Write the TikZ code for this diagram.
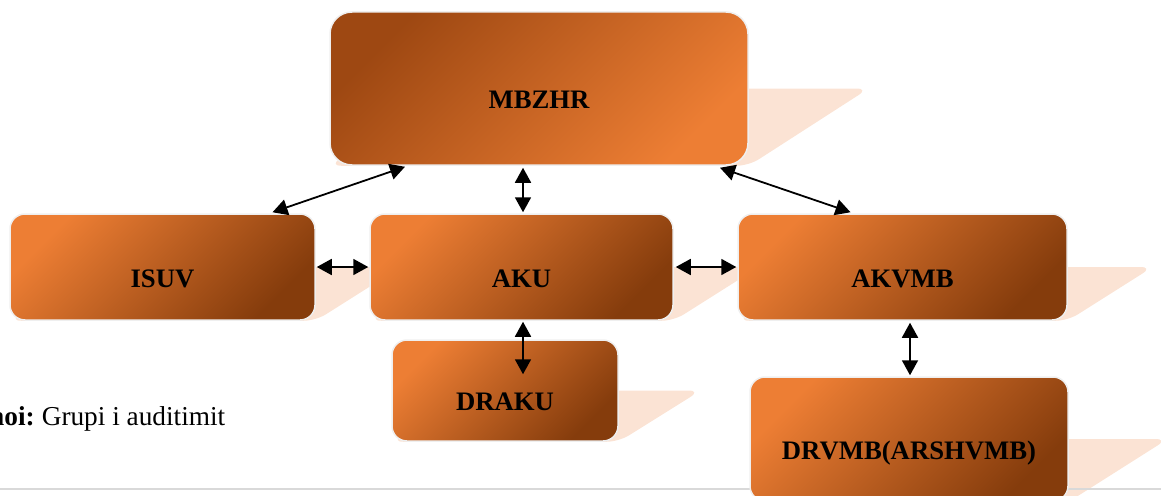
\documentclass[tikz,border=0pt]{standalone}
\usepackage{fontspec}
\setmainfont{Liberation Serif}
\usetikzlibrary{arrows.meta,backgrounds}
\definecolor{darkbr}{HTML}{853C0C}
\definecolor{brightor}{HTML}{ED7E34}
\definecolor{topdark}{HTML}{9E4812}
\definecolor{shadowc}{HTML}{FBE3D4}
\definecolor{rulegray}{HTML}{D9D9D9}
\definecolor{rimc}{HTML}{EFEFEF}
\tikzset{
  boxbase/.style={draw=rimc, line width=1.5pt, inner sep=0pt, text height=40pt, text depth=0pt,
    font=\fontsize{26.7}{31}\selectfont\bfseries},
  orbox/.style={boxbase, rounded corners=15pt, top color=brightor, bottom color=darkbr, shading angle=45},
  topbox/.style={boxbase, rounded corners=22pt, top color=topdark, bottom color=brightor, shading angle=45},
  link/.style={line width=1.8pt, {Triangle[length=15pt,width=16pt]}-{Triangle[length=15pt,width=16pt]}},
  shadowfill/.style={fill=shadowc, rounded corners=12pt},
}
\begin{document}
\begin{tikzpicture}[x=1pt,y=-1pt]
\useasboundingbox (0,0) rectangle (1161,495);
\clip (0,0) rectangle (1161,495);
\node[topbox, minimum width=418pt, minimum height=153pt] (mbzhr) at (539,88.5) {MBZHR};
\node[orbox, minimum width=305pt, minimum height=106pt] (isuv) at (162.5,267) {ISUV};
\node[orbox, minimum width=303pt, minimum height=106pt] (aku) at (521.5,267) {AKU};
\node[orbox, minimum width=329pt, minimum height=106pt] (akvmb) at (902.5,267) {AKVMB};
\node[orbox, minimum width=226pt, minimum height=101pt] (draku) at (505,390.5) {DRAKU};
\node[orbox, minimum width=318pt, minimum height=124pt] (drvmb) at (909,439) {DRVMB(ARSHVMB)};
\node[anchor=base east, inner sep=0pt, font=\fontsize{27.3}{31}\selectfont] (src) at (225.5,425) {\textbf{noi:}\hspace{-2pt} Grupi i auditimit};
\begin{pgfonlayer}{background}
  \foreach \n/\s in {mbzhr/120, isuv/85, aku/85, akvmb/85, draku/82, drvmb/99}{
    \fill[shadowfill] (\n.south west) -- (\n.south east) -- ([xshift=\s pt]\n.east) -- ([xshift=\s pt]\n.west) -- cycle;
  }
  \coordinate (rl) at (0,489);
  \coordinate (rr) at (1161,489);
  \draw[rulegray, line width=2pt] (rl) -- (rr);
\end{pgfonlayer}
\draw[link] ([xshift=110pt,yshift=1pt]isuv.north) -- ([xshift=-134pt,yshift=-1pt]mbzhr.south);
\draw[link] ([xshift=1.5pt,yshift=1pt]aku.north) -- ([xshift=-16pt,yshift=-2pt]mbzhr.south);
\draw[link] ([xshift=181pt,yshift=-2pt]mbzhr.south) -- ([xshift=-52pt,yshift=1pt]akvmb.north);
\draw[link] ([xshift=1pt]isuv.east) -- ([xshift=-1pt]aku.west);
\draw[link] ([xshift=2pt]aku.east) -- ([xshift=-1pt]akvmb.west);
\draw[link] ([xshift=1.5pt,yshift=-1pt]aku.south) -- ([xshift=18pt,yshift=-35pt]draku.north);
\draw[link] ([xshift=7.5pt,yshift=-2pt]akvmb.south) -- ([xshift=1pt,yshift=1pt]drvmb.north);
\end{tikzpicture}
\end{document}
